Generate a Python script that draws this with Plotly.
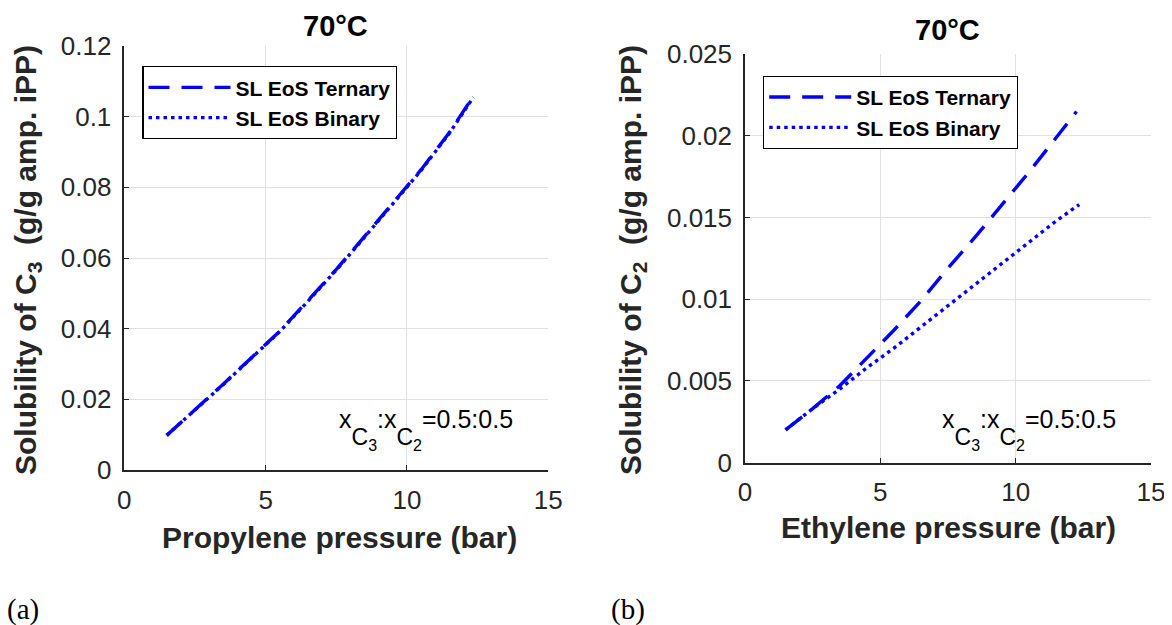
import plotly.graph_objects as go

# ---- data ----
p_c3 = [1.5, 2.5, 3.5, 4.5, 5.5, 6.5, 7.5, 8.5, 9.5, 10.5, 11.5, 12.35]
sol_c3_ternary = [0.0098, 0.0170, 0.0243, 0.0318, 0.0393, 0.0480, 0.0568, 0.0661, 0.0754, 0.0850, 0.0955, 0.1058]
sol_c3_binary = [0.0098, 0.0169, 0.0242, 0.0317, 0.0392, 0.0478, 0.0566, 0.0659, 0.0752, 0.0848, 0.0953, 0.1055]

p_c2_ternary = [1.5, 2.5, 3.5, 4.5, 5.5, 6.5, 7.5, 8.5, 9.5, 10.5, 11.5, 12.25]
sol_c2_ternary = [0.0020, 0.0033, 0.0047, 0.0064, 0.0081, 0.0099, 0.0119, 0.0138, 0.0158, 0.0178, 0.0199, 0.0215]
p_c2_binary = [1.5, 2.5, 3.5, 4.5, 5.5, 6.5, 7.5, 8.5, 9.5, 10.5, 11.5, 12.35]
sol_c2_binary = [0.0020, 0.0033, 0.0045, 0.0058, 0.0070, 0.0083, 0.0096, 0.0109, 0.0122, 0.0135, 0.0148, 0.0158]

series_names = ["SL EoS Ternary", "SL EoS Binary"]
panel_titles = ["70°C", "70°C"]
x_titles = ["Propylene pressure (bar)", "Ethylene pressure (bar)"]
y_titles = ["Solubility of C<sub>3</sub>  (g/g amp. iPP)", "Solubility of C<sub>2</sub>  (g/g amp. iPP)"]
panel_labels = ["(a)", "(b)"]

BLUE = "#0000FF"
DARK = "#262626"
GRID = "#e1e1e1"
SANS = "Liberation Sans, Arial"

# the figure sits inside the page's default 8px body margin
PAGE_W, PAGE_H = 1172, 625
OFF = 8
FW, FH = PAGE_W - OFF, PAGE_H - OFF


def px(x):
    return (x - OFF) / FW


def py(y):
    return 1 - (y - OFF) / FH


def ratio_label():
    big = 'style="font-size:23px;baseline-shift:-17px"'
    small = 'style="font-size:16px;baseline-shift:-23px"'
    return ('x<span %s>C</span><span %s>3</span>:x<span %s>C</span><span %s>2</span>=0.5:0.5'
            % (big, small, big, small))


fig = go.Figure()

dash_t = "21px,12px"
dash_b = "3.5px,4px"
fig.add_trace(go.Scatter(x=p_c3, y=sol_c3_ternary, mode="lines", name=series_names[0],
                         line=dict(color=BLUE, width=3.4, dash=dash_t),
                         xaxis="x", yaxis="y", legend="legend"))
fig.add_trace(go.Scatter(x=p_c3, y=sol_c3_binary, mode="lines", name=series_names[1],
                         line=dict(color=BLUE, width=3.4, dash=dash_b),
                         xaxis="x", yaxis="y", legend="legend"))
fig.add_trace(go.Scatter(x=p_c2_ternary, y=sol_c2_ternary, mode="lines", name=series_names[0],
                         line=dict(color=BLUE, width=3.4, dash=dash_t),
                         xaxis="x2", yaxis="y2", legend="legend2"))
fig.add_trace(go.Scatter(x=p_c2_binary, y=sol_c2_binary, mode="lines", name=series_names[1],
                         line=dict(color=BLUE, width=3.4, dash=dash_b),
                         xaxis="x2", yaxis="y2", legend="legend2"))

tickfont = dict(family=SANS, size=26, color=DARK)


def xaxis(domain, anchor):
    return dict(domain=domain, anchor=anchor, range=[0, 15], dtick=5, automargin=False,
                showline=True, linecolor=DARK, linewidth=1.5, mirror=False,
                ticks="inside", ticklen=5, tickcolor=DARK, tickwidth=1.2,
                showgrid=True, gridcolor=GRID, gridwidth=1, zeroline=False,
                ticklabelstandoff=6, tickfont=tickfont)


def yaxis(domain, anchor, rng, dt):
    return dict(domain=domain, anchor=anchor, range=rng, dtick=dt, automargin=False,
                showline=True, linecolor=DARK, linewidth=1.5, mirror=False,
                ticks="inside", ticklen=5, tickcolor=DARK, tickwidth=1.2,
                showgrid=True, gridcolor=GRID, gridwidth=1, zeroline=False,
                ticklabelstandoff=6, tickfont=tickfont)


xd1 = [px(124.3), px(548.3)]
yd1 = [py(470), py(46)]
xd2 = [px(745), px(1151)]
yd2 = [py(462.5), py(54.3)]

legfont = dict(family=SANS, size=21, color="black", weight="bold")

fig.update_layout(
    width=FW, height=FH,
    paper_bgcolor="white", plot_bgcolor="white",
    margin=dict(l=0, r=0, t=0, b=0, autoexpand=False),
    showlegend=True,
    xaxis=xaxis(xd1, "y"),
    yaxis=yaxis(yd1, "x", [0, 0.12], 0.02),
    xaxis2=xaxis(xd2, "y2"),
    yaxis2=yaxis(yd2, "x2", [0, 0.025], 0.005),
    legend=dict(x=px(142.3), y=py(66), xanchor="left", yanchor="top",
                bgcolor="white", bordercolor="black", borderwidth=1.2,
                font=legfont, tracegroupgap=0, itemwidth=82),
    legend2=dict(x=px(763), y=py(75.7), xanchor="left", yanchor="top",
                 bgcolor="white", bordercolor="black", borderwidth=1.2,
                 font=legfont, tracegroupgap=0, itemwidth=82),
)

ttl = dict(family=SANS, size=29, color="black")
axt = dict(family=SANS, size=30, color=DARK)
annots = [
    # panel titles
    dict(text="<b>" + panel_titles[0] + "</b>", x=px(335.3), y=py(8.3), xanchor="center", yanchor="top", font=ttl),
    dict(text="<b>" + panel_titles[1] + "</b>", x=px(947), y=py(30.5), xanchor="center", yanchor="middle", font=ttl),
    # x axis titles
    dict(text="<b>" + x_titles[0] + "</b>", x=px(339), y=py(537.9), xanchor="center", yanchor="middle", font=axt),
    dict(text="<b>" + x_titles[1] + "</b>", x=px(948), y=py(527.6), xanchor="center", yanchor="middle", font=axt),
    # y axis titles
    dict(text="<b>" + y_titles[0] + "</b>", x=px(28), y=py(260), xanchor="center", yanchor="middle",
         textangle=-90, font=axt),
    dict(text="<b>" + y_titles[1] + "</b>", x=px(633), y=py(260), xanchor="center", yanchor="middle",
         textangle=-90, font=axt),
    # composition labels
    dict(text=ratio_label(), x=px(337), y=py(403), xanchor="left", yanchor="top",
         font=dict(family=SANS, size=25, color="black")),
    dict(text=ratio_label(), x=px(939.5), y=py(403), xanchor="left", yanchor="top",
         font=dict(family=SANS, size=25, color="black")),
    # panel letters
    dict(text=panel_labels[0], x=px(5), y=py(609), xanchor="left", yanchor="middle",
         font=dict(family="Liberation Serif, Times New Roman", size=29, color="black")),
    dict(text=panel_labels[1], x=px(609), y=py(609), xanchor="left", yanchor="middle",
         font=dict(family="Liberation Serif, Times New Roman", size=29, color="black")),
]
for a in annots:
    a.update(xref="paper", yref="paper", showarrow=False)
fig.update_layout(annotations=annots)

fig.write_html("out.html")
